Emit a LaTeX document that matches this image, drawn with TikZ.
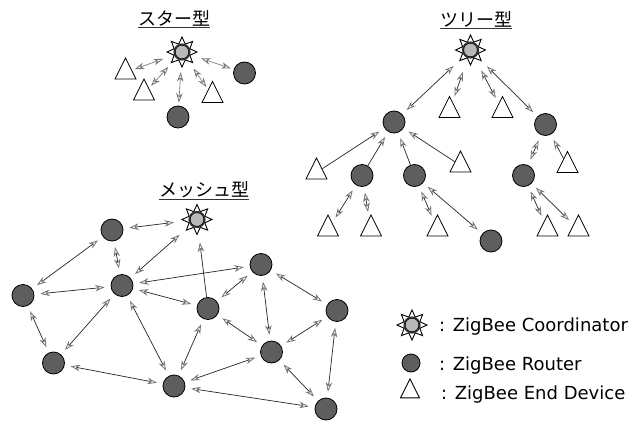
\documentclass[tikz,border=0pt]{standalone}
\usepackage{fontspec}
\setmainfont{DejaVu Sans}
\newfontfamily\jpfont{Noto Sans CJK JP}
\usetikzlibrary{arrows.meta,shapes.geometric}

\tikzset{
  % ZigBee coordinator: eight-pointed star with a grey disc in the middle
  coordsym/.style={circle, minimum size=34pt, inner sep=0pt,
    path picture={
      \begin{scope}[shift={(path picture bounding box.center)}]
        \draw[fill=white, line width=0.9pt, line join=miter]
          (90:15pt) \foreach \a in {90,135,...,405} { -- ({\a+22.5}:8.5pt) -- ({\a+45}:15pt) } -- cycle;
        \fill[black!80] (0,0) circle (8.6pt);
        \draw[fill=black!28, line width=0.5pt] (0,0) circle (6.8pt);
      \end{scope}
    }},
  router/.style={circle, draw=black, line width=0.8pt, fill=black!63,
    minimum size=22pt, inner sep=0pt},
  device/.style={isosceles triangle, isosceles triangle stretches,
    shape border rotate=90, draw=black, line width=0.8pt, fill=white,
    minimum width=21pt, minimum height=21pt, inner sep=0pt},
  bi/.style={draw=black!85, line width=0.7pt, <->, shorten <=6pt, shorten >=6pt},
  uni/.style={draw=black!85, line width=0.7pt, ->, shorten >=6pt},
  sbi/.style={bi, draw=black!50, shorten <=3pt, shorten >=3pt},
  ttl/.style={font=\jpfont\fontsize{18pt}{18pt}\selectfont, inner xsep=0pt, inner ysep=1.5pt},
  uline/.style={draw=black!80, line width=1pt},
  lgd/.style={font=\fontsize{18pt}{18pt}\selectfont, inner sep=0pt, anchor=base west},
}

\begin{document}
\begin{tikzpicture}[x=1pt, y=-1pt,
  >={Stealth[length=9.5pt, width=6.5pt, inset=3pt, color=black!55, fill=white, line width=0.8pt]}]
\useasboundingbox (0,0) rectangle (643,423);
\fill[white] (0,0) rectangle (643,423);

% ---------- star topology ----------
\node[ttl] (ttlS) at (174,18) {スター型};
\draw[uline] (ttlS.south west) -- (ttlS.south east);
\node[coordsym] (sC) at (182,52) {};
\node[device] (sT1) at (125.5,72.5) {};
\node[device] (sT2) at (144,93.5) {};
\node[router] (sR1) at (178,117) {};
\node[device] (sT3) at (212.5,96) {};
\node[router] (sR2) at (244.5,73) {};
\foreach \n in {sT1,sT2,sR1,sT3,sR2} \draw[sbi] (sC) -- (\n);

% ---------- tree topology ----------
\node[ttl] (ttlT) at (476,19) {ツリー型};
\draw[uline] (ttlT.south west) -- (ttlT.south east);
\node[coordsym] (tC) at (470.5,50) {};
\node[router] (tR1) at (394,122) {};
\node[device] (tT1) at (449.5,111) {};
\node[device] (tT2) at (502.5,111) {};
\node[router] (tR2) at (545.5,124.5) {};
\node[device] (tTL) at (316.5,172.5) {};
\node[router] (tR3) at (362,175.5) {};
\node[router] (tR4) at (414.5,175.5) {};
\node[device] (tTR1) at (460.5,165.5) {};
\node[router] (tR5) at (523.5,175.5) {};
\node[device] (tTR2) at (567.5,166) {};
\node[device] (tB1) at (328,229.5) {};
\node[device] (tB2) at (371,229.5) {};
\node[device] (tB3) at (437.5,229.5) {};
\node[router] (tBR) at (491,241) {};
\node[device] (tB4) at (547.5,229.5) {};
\node[device] (tB5) at (578.5,229.5) {};
\foreach \n in {tR1,tT1,tT2,tR2} \draw[bi] (tC) -- (\n);
\foreach \n in {tTL,tR3,tR4,tTR1} \draw[uni] (\n) -- (tR1);
\draw[bi] (tR3) -- (tB1);
\draw[bi] (tR3) -- (tB2);
\draw[bi] (tR4) -- (tB3);
\draw[bi] (tR4) -- (tBR);
\draw[bi] (tR2) -- (tR5);
\draw[uni] (tTR2) -- (tR2);
\draw[bi] (tR5) -- (tB4);
\draw[bi] (tR5) -- (tB5);

% ---------- mesh topology ----------
\node[ttl] (ttlM) at (204,190) {メッシュ型};
\draw[uline] (ttlM.south west) -- (ttlM.south east);
\node[coordsym] (mC) at (197,219.5) {};
\node[router] (m1) at (112,230) {};
\node[router] (m2) at (122,285.5) {};
\node[router] (m3) at (23,295.5) {};
\node[router] (m4) at (261,264.5) {};
\node[router] (m5) at (208,308.5) {};
\node[router] (m6) at (337,310.5) {};
\node[router] (m7) at (271.5,352) {};
\node[router] (m8) at (53.5,363) {};
\node[router] (m9) at (174,386) {};
\node[router] (m10) at (326,409) {};
\draw[bi] (m1) -- (mC);
\draw[bi] (m1) -- (m3);
\draw[bi] (m1) -- (m2);
\draw[bi] (m2) -- (mC);
\draw[bi] (m3) -- (m2);
\draw[bi] (m2) -- (m4);
\draw[bi] (m2) -- (m5);
\draw[uni] (m5) -- (mC);
\draw[bi] (m5) -- (m4);
\draw[bi] (m5) -- (m7);
\draw[bi] (m4) -- (m7);
\draw[bi] (m4) -- (m6);
\draw[bi] (m6) -- (m7);
\draw[bi] (m6) -- (m10);
\draw[bi] (m7) -- (m9);
\draw[bi] (m7) -- (m10);
\draw[bi] (m5) -- (m9);
\draw[bi] (m9) -- (m10);
\draw[bi] (m2) -- (m9);
\draw[bi] (m2) -- (m8);
\draw[bi] (m3) -- (m8);
\draw[bi] (m8) -- (m9);

% ---------- legend ----------
\node[coordsym] (lC) at (412,325) {};
\node[router, minimum size=18pt] (lR) at (411,363) {};
\node[device, minimum width=19pt, minimum height=19pt] (lD) at (410,392) {};
\node[lgd] (lCt) at (439,331.5) {: ZigBee Coordinator};
\node[lgd] (lRt) at (439,370) {: ZigBee Router};
\node[lgd] (lDt) at (441,399) {: ZigBee End Device};
\end{tikzpicture}
\end{document}
